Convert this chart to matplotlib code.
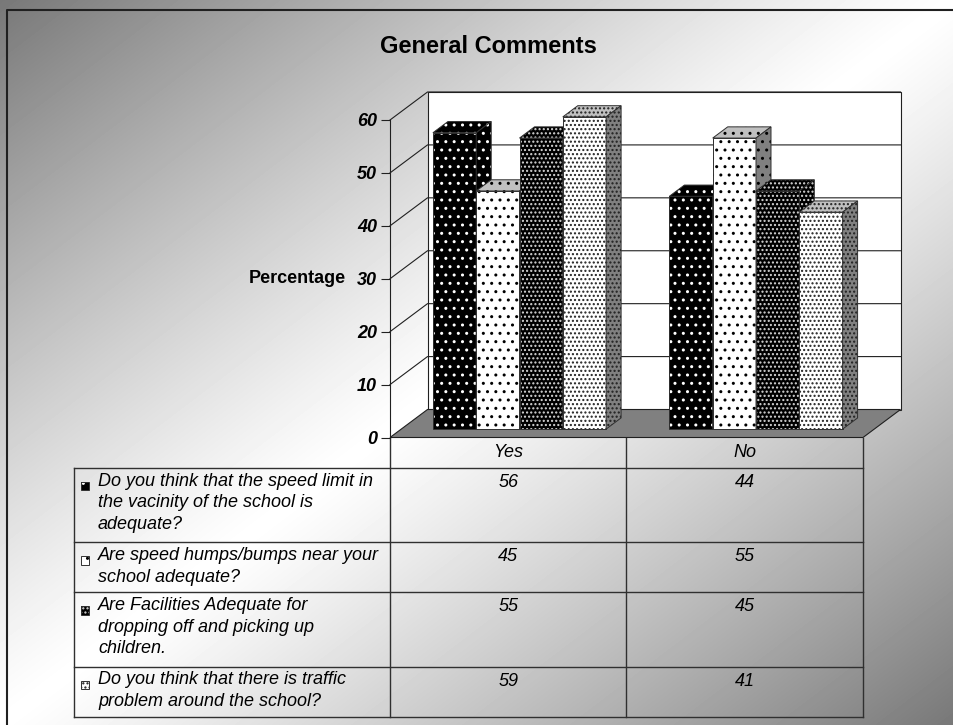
import matplotlib.pyplot as plt
import numpy as np
from matplotlib.patches import Polygon, Rectangle

plt.rcParams['font.family'] = ['Liberation Sans', 'DejaVu Sans']
plt.rcParams['hatch.linewidth'] = 1.0

categories = ['Yes', 'No']
questions = [
    'Do you think that the speed limit in\nthe vacinity of the school is\nadequate?',
    'Are speed humps/bumps near your\nschool adequate?',
    'Are Facilities Adequate for\ndropping off and picking up\nchildren.',
    'Do you think that there is traffic\nproblem around the school?',
]
speed_limit = [56, 44]
speed_humps = [45, 55]
facilities = [55, 45]
traffic = [59, 41]
series = [speed_limit, speed_humps, facilities, traffic]
y_ticks = [0, 10, 20, 30, 40, 50, 60]

# face colours: front, top, side, dot colour, hatch
styles = [
    ('black', 'black', 'black', 'white', '..'),
    ('white', '#c0c0c0', '#808080', 'black', '..'),
    ('black', 'black', 'black', '#d8d8d8', '....'),
    ('white', '#c0c0c0', '#808080', '#202020', '....'),
]

W, H = 954, 725
fig = plt.figure(figsize=(W / 100, H / 100), dpi=100)

# background with diagonal gradient, also carries the table
bg = fig.add_axes([0, 0, 1, 1], zorder=0)
xx, yy = np.meshgrid(np.linspace(0, 1, W), np.linspace(0, 1, H))
t = (xx + yy) / 2
shade = 1 - 0.53 * np.abs(2 * t - 1) ** 1.15
bg.imshow(shade, cmap='gray', vmin=0, vmax=1, extent=(0, W, H, 0), aspect='auto')
bg.set_xlim(0, W)
bg.set_ylim(H, 0)
bg.axis('off')
bg.plot([7, 7, W], [H, 10, 10], color='#202020', lw=1.5)
bg.text(488, 46, 'General Comments', fontsize=17, fontweight='bold', ha='center', va='center')

# chart area (front plane) in pixels
L, R, Y0, Y60 = 390, 863, 437.5, 120
ax = fig.add_axes([L / W, 1 - Y0 / H, (R - L) / W, (Y0 - Y60) / H], zorder=1)
ax.patch.set_visible(False)
px_cat = (R - L) / len(categories)
px_val = (Y0 - Y60) / 60
DX = 37.5 / px_cat
DY = 28 / px_val
z0, zd = 0.3, 0.4
bw = 43.3 / px_cat
edge = '#303030'

x_lo, x_hi = -0.5, len(categories) - 0.5

# back wall, floor and gridlines
ax.add_patch(Polygon([(x_lo + DX, DY), (x_hi + DX, DY), (x_hi + DX, 60 + DY), (x_lo + DX, 60 + DY)],
                     fc='white', ec='#202020', lw=0.8, zorder=1, clip_on=False))
ax.add_patch(Polygon([(x_lo, 0), (x_hi, 0), (x_hi + DX, DY), (x_lo + DX, DY)],
                     fc='#808080', ec='#202020', lw=0.8, zorder=1.5, clip_on=False))
for v in y_ticks[1:]:
    ax.plot([x_lo, x_lo + DX, x_hi + DX], [v, v + DY, v + DY], color='#202020', lw=0.8,
            zorder=1.2, clip_on=False)


def face(verts, fc, dots, hatch, z):
    ax.add_patch(Polygon(verts, fc=fc, ec='none', lw=0, zorder=z, clip_on=False))
    ax.add_patch(Polygon(verts, fill=False, ec=dots, hatch=hatch, lw=0, zorder=z, clip_on=False))
    ax.add_patch(Polygon(verts, fill=False, ec=edge, lw=0.7, zorder=z, clip_on=False))


centers = np.arange(len(categories))
for i, (vals, st) in enumerate(zip(series, styles)):
    fc, tc, sc, dots, hatch = st
    z = 3 + i
    xl = centers - 2 * bw + i * bw + z0 * DX
    base = z0 * DY
    ax.bar(xl, vals, width=bw, bottom=base, align='edge', color=fc, edgecolor=dots,
           hatch=hatch, linewidth=0, zorder=z, clip_on=False)
    ax.bar(xl, vals, width=bw, bottom=base, align='edge', fill=False, edgecolor=edge,
           linewidth=0.7, zorder=z, clip_on=False)
    for x, v in zip(xl, vals):
        top = base + v
        face([(x, top), (x + bw, top), (x + bw + zd * DX, top + zd * DY), (x + zd * DX, top + zd * DY)],
             tc, dots, hatch, z + 0.1)
        face([(x + bw, base), (x + bw + zd * DX, base + zd * DY), (x + bw + zd * DX, top + zd * DY),
              (x + bw, top)], sc, dots, hatch, z + 0.2)

ax.set_xlim(x_lo, x_hi)
ax.set_ylim(0, 60)
ax.set_xticks([])
ax.set_yticks(y_ticks)
ax.set_yticklabels([str(v) for v in y_ticks], fontsize=13, fontweight='bold', fontstyle='italic')
ax.tick_params(axis='y', direction='out', length=6.5, width=0.8, pad=3, color='#202020')
for s in ['top', 'right', 'bottom']:
    ax.spines[s].set_visible(False)
ax.spines['left'].set_color('#202020')
ax.spines['left'].set_linewidth(0.8)
ax.set_ylabel('Percentage', rotation=0, fontsize=13, fontweight='bold', ha='right', va='center')
ax.yaxis.set_label_coords(-(L - 345.7) / (R - L), 0.5)

# data table below the chart
col_x = [74, L, L + px_cat, R]
head_bot = 467.5
line_h = 24.5
row_tops = [head_bot]
for q in questions:
    row_tops.append(row_tops[-1] + line_h * (q.count('\n') + 1) + 1)
tl = dict(color=edge, lw=1.0)
for j, cat in enumerate(categories):
    bg.text((col_x[j + 1] + col_x[j + 2]) / 2, (Y0 + head_bot) / 2, cat, fontsize=13,
            fontstyle='italic', ha='center', va='center')
for y in row_tops:
    bg.plot([col_x[0], col_x[-1]], [y, y], **tl)
bg.plot([col_x[0], col_x[0]], [head_bot, row_tops[-1]], **tl)
for x in col_x[1:]:
    bg.plot([x, x], [Y0, row_tops[-1]], **tl)
for i, q in enumerate(questions):
    fc, tc, sc, dots, hatch = styles[i]
    y = row_tops[i]
    bg.add_patch(Rectangle((80.7, y + 14.2), 8.8, 8.6, fc=fc, ec='none'))
    bg.add_patch(Rectangle((80.7, y + 14.2), 8.8, 8.6, fill=False, ec=dots, hatch=hatch, lw=0))
    bg.add_patch(Rectangle((80.7, y + 14.2), 8.8, 8.6, fill=False, ec=edge, lw=0.7))
    bg.text(98, y + 5, q, fontsize=13, fontstyle='italic', ha='left', va='top', linespacing=1.36)
    for j, vals in enumerate(series[i]):
        bg.text((col_x[j + 1] + col_x[j + 2]) / 2, y + 6, str(vals), fontsize=13,
                fontstyle='italic', ha='center', va='top')

fig.savefig('out.png', dpi=100)
